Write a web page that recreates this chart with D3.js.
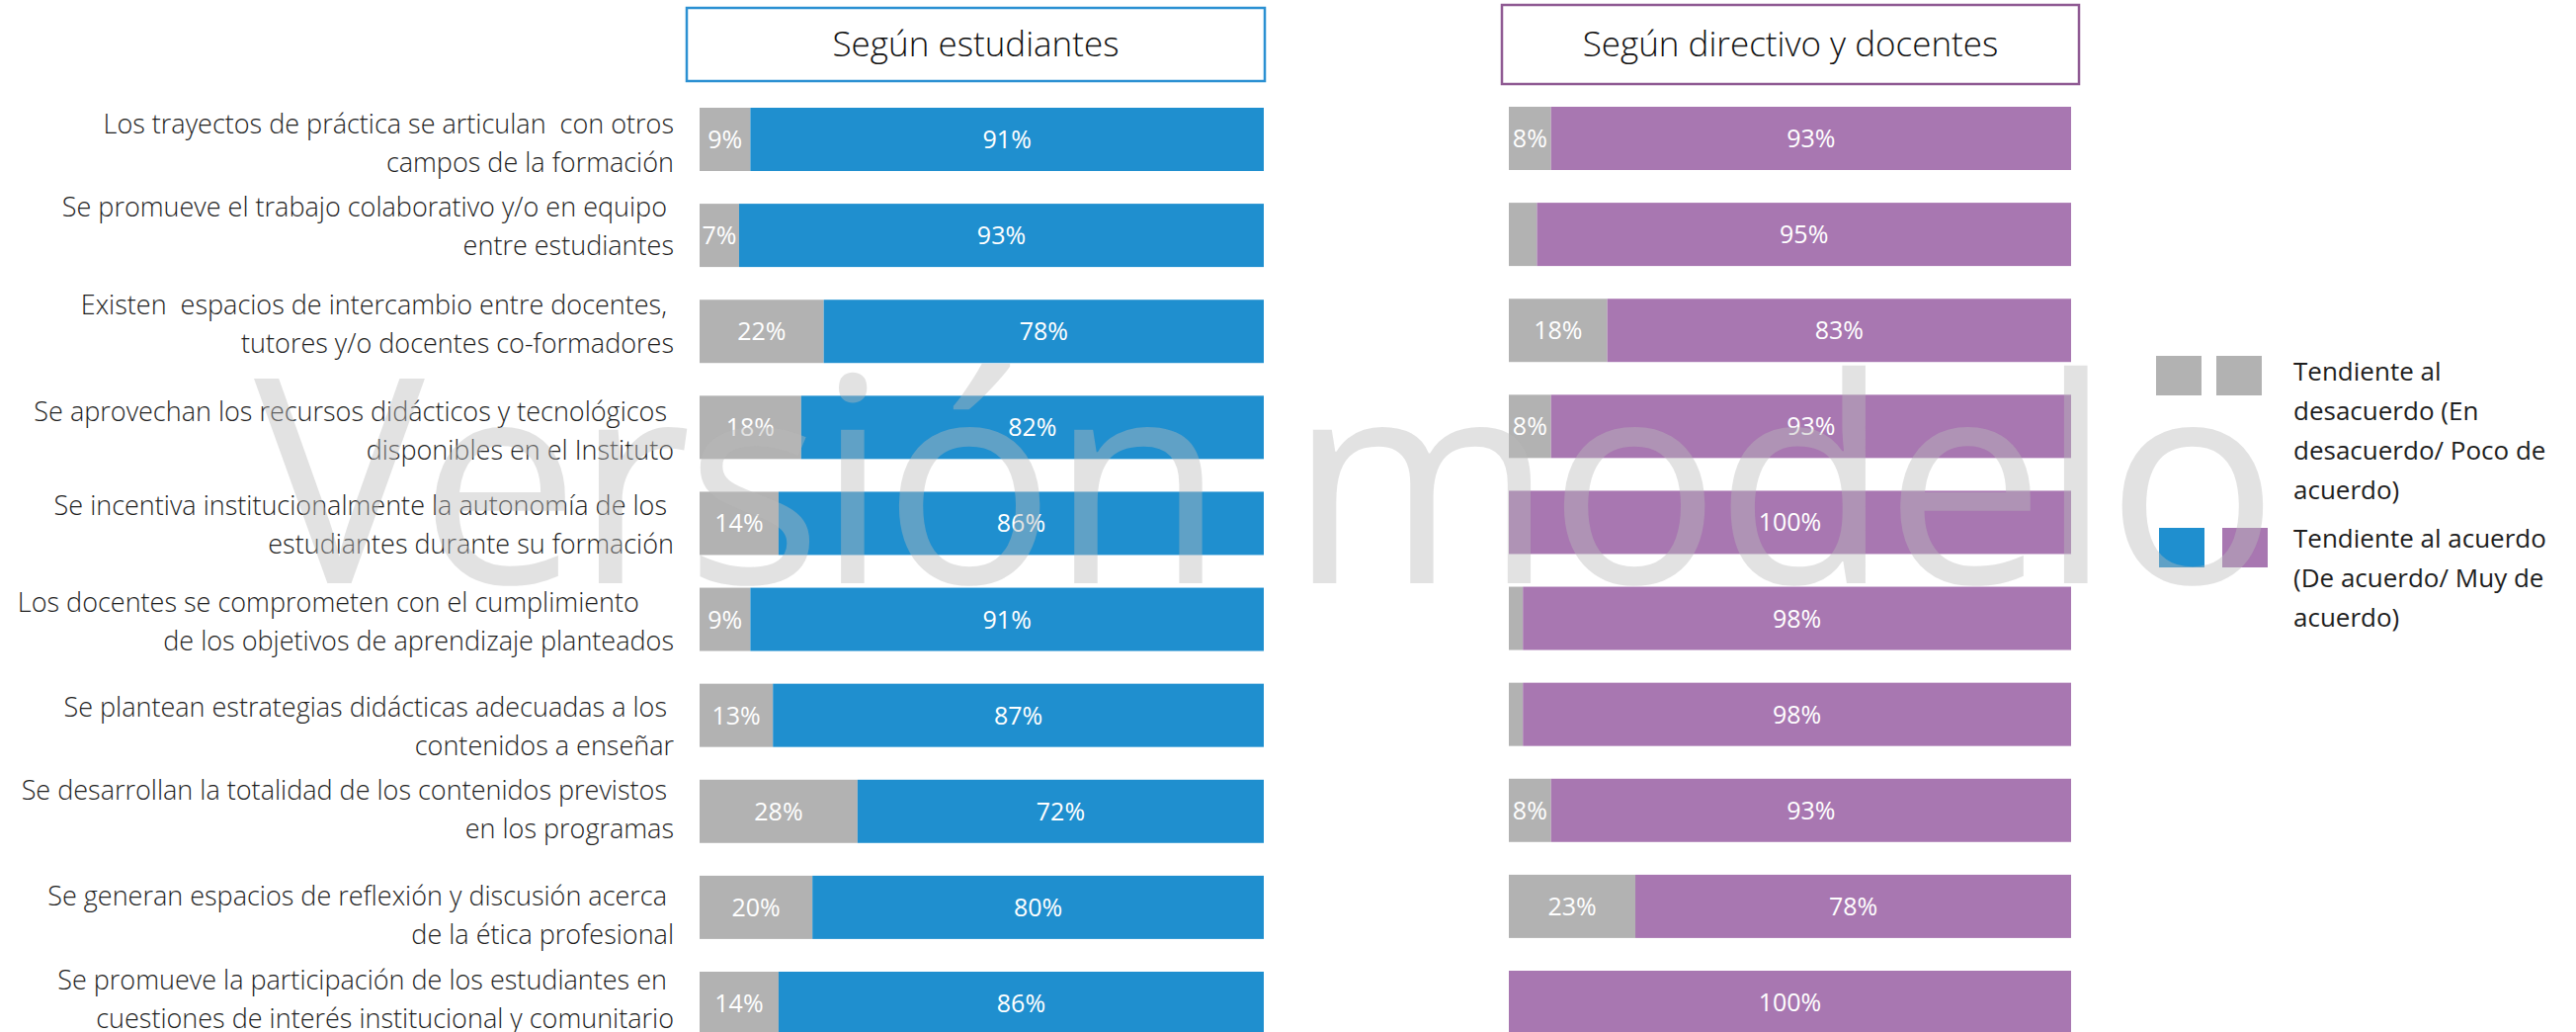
<!DOCTYPE html>
<html>
<head>
<meta charset="utf-8">
<script src="https://cdn.jsdelivr.net/npm/d3@7"></script>
<style>
  html, body { margin: 0; padding: 0; background: #ffffff; }
  svg { display: block; }
  text { white-space: pre; }
</style>
</head>
<body>
<svg id="chart" width="2607" height="1044"></svg>
<script>
// ---------------- DATA ----------------
const categories = [
  ["Los trayectos de práctica se articulan  con otros", "campos de la formación"],
  ["Se promueve el trabajo colaborativo y/o en equipo ", "entre estudiantes"],
  ["Existen  espacios de intercambio entre docentes, ", "tutores y/o docentes co-formadores"],
  ["Se aprovechan los recursos didácticos y tecnológicos ", "disponibles en el Instituto"],
  ["Se incentiva institucionalmente la autonomía de los ", "estudiantes durante su formación"],
  ["Los docentes se comprometen con el cumplimiento     ", "de los objetivos de aprendizaje planteados"],
  ["Se plantean estrategias didácticas adecuadas a los ", "contenidos a enseñar"],
  ["Se desarrollan la totalidad de los contenidos previstos ", "en los programas"],
  ["Se generan espacios de reflexión y discusión acerca ", "de la ética profesional"],
  ["Se promueve la participación de los estudiantes en ", "cuestiones de interés institucional y comunitario"]
];
const panelTitles = ["Según estudiantes", "Según directivo y docentes"];
const legendLines = [
  ["Tendiente al", "desacuerdo (En", "desacuerdo/ Poco de", "acuerdo)"],
  ["Tendiente al acuerdo", "(De acuerdo/ Muy de", "acuerdo)"]
];
const studentsDisagree = [9, 7, 22, 18, 14, 9, 13, 28, 20, 14];
const studentsAgree    = [91, 93, 78, 82, 86, 91, 87, 72, 80, 86];
const staffDisagree    = [7.5, 5, 17.5, 7.5, 0, 2.5, 2.5, 7.5, 22.5, 0];
const staffAgree       = [92.5, 95, 82.5, 92.5, 100, 97.5, 97.5, 92.5, 77.5, 100];
const watermarkText = "Versión modelo";

// ---------------- STYLE / LAYOUT ----------------
const GRAY = "#b2b2b2", BLUE = "#1f8fcf", PURPLE = "#a877b1";
const TEXT = "#1e1e1e";
const labelFont = "'Open Sans', 'Noto Sans', sans-serif";
// vertical nudge of each category text block (layout only)
const labelNudge = [2, -11, -9, 2, 0, 0, 9, -4, 6, -6];

const svg = d3.select("#chart");
const ids = categories.map((d, i) => i);

const y = d3.scaleBand().domain(ids).range([109, 1047]).paddingInner(0.341).paddingOuter(0);

const panels = [
  { title: panelTitles[0], x0: 708, x1: 1279, box: [695, 8, 585, 74], border: "#2b90d2",
    color: BLUE, dis: studentsDisagree, agr: studentsAgree, dy: 0 },
  { title: panelTitles[1], x0: 1527, x1: 2096, box: [1520, 5, 584, 80], border: "#8f5a93",
    color: PURPLE, dis: staffDisagree, agr: staffAgree, dy: -1 }
];

panels.forEach(p => {
  const x = d3.scaleLinear().domain([0, 100]).range([p.x0, p.x1]);
  const g = svg.append("g");

  g.append("rect")
    .attr("x", p.box[0]).attr("y", p.box[1]).attr("width", p.box[2]).attr("height", p.box[3])
    .attr("fill", "#fff").attr("stroke", p.border).attr("stroke-width", 2.5);
  g.append("text")
    .attr("x", p.box[0] + p.box[2] / 2).attr("y", p.box[1] + p.box[3] / 2 + 12)
    .attr("text-anchor", "middle")
    .attr("font-family", labelFont).attr("font-weight", 300).attr("font-size", 35)
    .attr("fill", "#111").text(p.title);

  const rows = ids.map(i => {
    const tot = p.dis[i] + p.agr[i];
    return { i, dis: p.dis[i] / tot * 100, agr: p.agr[i] / tot * 100, dRaw: p.dis[i], aRaw: p.agr[i] };
  });

  const row = g.selectAll("g.row").data(rows).join("g").attr("class", "row");
  row.append("rect")
    .attr("x", d => x(0)).attr("y", d => y(d.i) + p.dy)
    .attr("width", d => x(d.dis) - x(0)).attr("height", y.bandwidth())
    .attr("fill", GRAY);
  row.append("rect")
    .attr("x", d => x(d.dis)).attr("y", d => y(d.i) + p.dy)
    .attr("width", d => x(d.dis + d.agr) - x(d.dis)).attr("height", y.bandwidth())
    .attr("fill", p.color);

  row.filter(d => d.dRaw >= 6).append("text")
    .attr("x", d => (x(0) + x(d.dis)) / 2)
    .attr("y", d => y(d.i) + p.dy + y.bandwidth() / 2)
    .attr("dy", "0.36em").attr("text-anchor", "middle")
    .attr("font-family", labelFont).attr("font-size", 25).attr("fill", "#fff")
    .text(d => Math.round(d.dRaw) + "%");
  row.append("text")
    .attr("x", d => (x(d.dis) + x(d.dis + d.agr)) / 2)
    .attr("y", d => y(d.i) + p.dy + y.bandwidth() / 2)
    .attr("dy", "0.36em").attr("text-anchor", "middle")
    .attr("font-family", labelFont).attr("font-size", 25).attr("fill", "#fff")
    .text(d => Math.round(d.aRaw) + "%");
});

// category labels
const cat = svg.append("g").selectAll("text").data(ids).join("text")
  .attr("text-anchor", "end")
  .attr("font-family", labelFont).attr("font-weight", 300).attr("font-size", 27)
  .attr("fill", TEXT);
cat.each(function(i) {
  const t = d3.select(this);
  const c = y(i) + y.bandwidth() / 2 + labelNudge[i];
  categories[i].forEach((line, k) => {
    t.append("tspan").attr("x", 682).attr("y", c - 8 + k * 39).text(line);
  });
});

// legend
const legend = svg.append("g");
const legendSquares = [
  { x: 2182, y: 360, fill: GRAY }, { x: 2243, y: 360, fill: GRAY },
  { x: 2185, y: 534, fill: BLUE }, { x: 2249, y: 534, fill: PURPLE }
];
legend.selectAll("rect").data(legendSquares).join("rect")
  .attr("x", d => d.x).attr("y", d => d.y).attr("width", 46).attr("height", 40)
  .attr("fill", d => d.fill);
const legendTop = [385, 554];
legendLines.forEach((lines, j) => {
  const t = legend.append("text")
    .attr("font-family", labelFont).attr("font-size", 26).attr("fill", TEXT);
  lines.forEach((line, k) => {
    t.append("tspan").attr("x", 2321).attr("y", legendTop[j] + k * 40).text(line);
  });
});

// watermark
svg.append("text")
  .attr("x", 257).attr("y", 590)
  .attr("font-family", labelFont).attr("font-size", 290)
  .attr("textLength", 2049).attr("lengthAdjust", "spacing")
  .attr("fill", "#bababa").attr("fill-opacity", 0.42)
  .text(watermarkText);
</script>
</body>
</html>
